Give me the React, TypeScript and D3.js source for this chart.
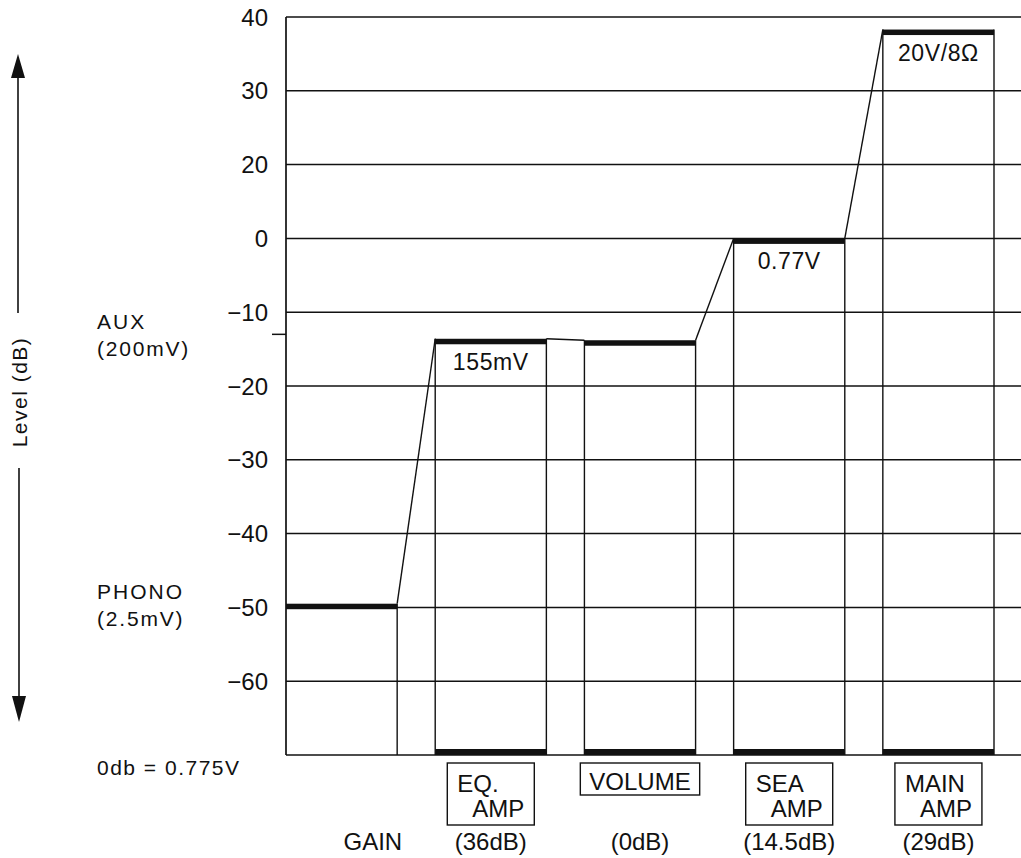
import React from "react";
import * as d3 from "d3";

const stages = ["PHONO", "EQ. AMP", "VOLUME", "SEA AMP", "MAIN AMP"];
const levels = [-49.5, -13.6, -13.8, 0, 28.3];
const levelLabels = ["", "155mV", "", "0.77V", "20V/8Ω"];
const boxLines: string[][] = [[], ["EQ.", "AMP"], ["VOLUME"], ["SEA", "AMP"], ["MAIN", "AMP"]];
const gainLabels = ["GAIN", "(36dB)", "(0dB)", "(14.5dB)", "(29dB)"];
const tickValues = [30, 20, 10, 0, -10, -20, -30, -40, -50, -60];
const tickLabels = ["40", "30", "20", "0", "−10", "−20", "−30", "−40", "−50", "−60"];
const sourceLabels = [
  { lines: ["AUX", "(200mV)"], level: -13 },
  { lines: ["PHONO", "(2.5mV)"], level: -49.5 },
];
const auxMarker = -13;

const W = 1021;
const H = 858;
const FONT = "'Liberation Sans', Arial, Helvetica, sans-serif";
const INK = "#111";

function measure(t: string, fs: number, ls: number): number {
  const c = document.createElement("canvas").getContext("2d")!;
  c.font = `${fs}px 'Liberation Sans'`;
  return c.measureText(t).width + ls * Math.max(0, t.length - 1);
}

export default function App() {
  const left = 286;
  const right = W;
  const y = d3.scaleLinear().domain([-70, 30]).range([755, 17]);
  const x = d3.scaleBand<string>().domain(stages).range([286, 994]).paddingInner(0.255).paddingOuter(0);
  const bw = x.bandwidth();
  const bottom = y(-70);

  const text = (
    s: string,
    px: number,
    py: number,
    anchor: string = "start",
    fs: number = 24,
    ls: number = 0,
    extra: any = {}
  ) => (
    <text x={px} y={py} textAnchor={anchor as any} fontFamily={FONT} fontSize={fs} letterSpacing={ls} fill={INK} {...extra}>
      {s}
    </text>
  );

  const connectors = stages.slice(1).map((s, i) => {
    const prev = stages[i];
    return d3.line()([
      [x(prev)! + bw, y(levels[i])],
      [x(s)!, y(levels[i + 1])],
    ]);
  });

  const BFS = 24;

  return (
    <svg width={W} height={H} style={{ position: "absolute", left: 0, top: 0, background: "#fff" }}>
      <rect width={W} height={H} fill="#fff" />
      {/* gridlines */}
      {tickValues.map((v) => (
        <line key={v} x1={left} x2={right} y1={y(v)} y2={y(v)} stroke={INK} strokeWidth={1.5} />
      ))}
      <line x1={left} x2={right} y1={bottom} y2={bottom} stroke={INK} strokeWidth={1.5} />
      <line x1={left} x2={left} y1={y(30)} y2={bottom} stroke={INK} strokeWidth={1.7} />
      <line x1={left - 14} x2={left} y1={y(auxMarker)} y2={y(auxMarker)} stroke={INK} strokeWidth={1.5} />
      {/* tick labels */}
      {tickValues.map((v, i) => (
        <g key={"t" + v}>{text(tickLabels[i], 268, y(v) + 8.5, "end", 24, 0)}</g>
      ))}
      {/* stage columns */}
      {stages.map((s, i) => {
        const x0 = x(s)!;
        const x1 = x0 + bw;
        const yl = y(levels[i]);
        return (
          <g key={s}>
            {i > 0 && <line x1={x0} x2={x0} y1={yl} y2={bottom} stroke={INK} strokeWidth={1.4} />}
            <line x1={x1} x2={x1} y1={yl} y2={bottom} stroke={INK} strokeWidth={1.4} />
            <rect x={x0} y={yl} width={bw} height={5.5} fill={INK} />
            {i > 0 && <rect x={x0} y={bottom - 6} width={bw} height={6} fill={INK} />}
            {levelLabels[i] && text(levelLabels[i], x0 + bw / 2, yl + 31, "middle", 23, 0.6)}
          </g>
        );
      })}
      {connectors.map((d, i) => (
        <path key={"c" + i} d={d!} fill="none" stroke={INK} strokeWidth={1.4} />
      ))}
      {/* stage label boxes */}
      {stages.map((s, i) => {
        const lines = boxLines[i];
        if (!lines.length) return null;
        const cx = x(s)! + bw / 2;
        const top = bottom + 8;
        if (lines.length === 1) {
          const w = measure(lines[0], BFS, 0) + 18;
          return (
            <g key={"b" + s}>
              <rect x={cx - w / 2} y={top} width={w} height={32} fill="none" stroke={INK} strokeWidth={1.4} />
              {text(lines[0], cx, top + 27, "middle", BFS, 0)}
            </g>
          );
        }
        const w1 = measure(lines[0], BFS, 0);
        const w2 = measure(lines[1], BFS, 0);
        const w = Math.max(w1, w2 + 15) + 20;
        const bx = cx - w / 2;
        return (
          <g key={"b" + s}>
            <rect x={bx} y={top} width={w} height={62} fill="none" stroke={INK} strokeWidth={1.4} />
            {text(lines[0], bx + 10, top + 29, "start", BFS, 0)}
            {text(lines[1], bx + w - 10, top + 54, "end", BFS, 0)}
          </g>
        );
      })}
      {/* gain row */}
      {stages.map((s, i) => (
        <g key={"g" + s}>
          {i === 0
            ? text(gainLabels[i], x(s)! + bw + 5, 850, "end", BFS, 0)
            : text(gainLabels[i], x(s)! + bw / 2, 850, "middle", BFS, 0)}
        </g>
      ))}
      {/* source labels */}
      {sourceLabels.map((src) => (
        <g key={src.lines[0]}>
          {text(src.lines[0], 97, y(src.level) - 5, "start", 21, 2)}
          {text(src.lines[1], 97, y(src.level) + 22, "start", 21, 1.8)}
        </g>
      ))}
      {text("0db = 0.775V", 97, 775, "start", 21, 1.5)}
      {/* level axis title with arrows */}
      <line x1={18} x2={18} y1={70} y2={313} stroke={INK} strokeWidth={1.6} />
      <line x1={19} x2={19} y1={468} y2={700} stroke={INK} strokeWidth={1.6} />
      <path d="M18,54 L11,78 L25,78 Z" fill={INK} />
      <path d="M19,722 L12,696 L26,696 Z" fill={INK} />
      {text("Level (dB)", 0, 0, "middle", 21, 1.5, { transform: "translate(27,392) rotate(-90)" })}
    </svg>
  );
}
